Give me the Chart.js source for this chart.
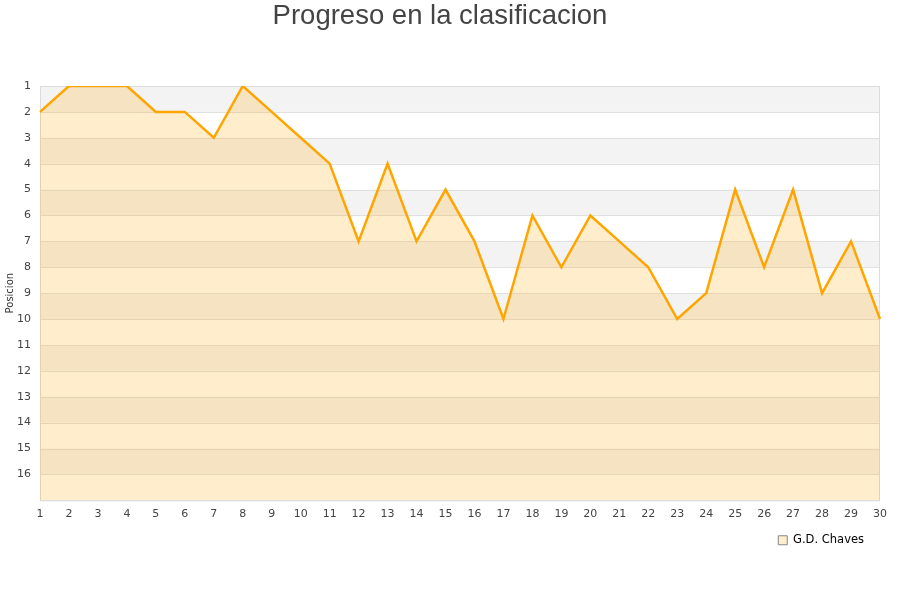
<!DOCTYPE html>
<html>
<head>
<meta charset="utf-8">
<script src="https://cdn.jsdelivr.net/npm/chart.js@4"></script>
<style>
  html, body { margin: 0; padding: 0; background: #fff; }
  #wrap { width: 900px; height: 600px; }
</style>
</head>
<body>
<div id="wrap"><canvas id="chart" width="900" height="600"></canvas></div>
<script>
'use strict';

/* ── Data ── */
const jornadas = ['1','2','3','4','5','6','7','8','9','10','11','12','13','14','15',
                  '16','17','18','19','20','21','22','23','24','25','26','27','28','29','30'];
const posiciones = [2, 1, 1, 1, 2, 2, 3, 1, 2, 3, 4, 7, 4, 7, 5,
                    7, 10, 6, 8, 6, 7, 8, 10, 9, 5, 8, 5, 9, 7, 10];
const equipo = 'G.D. Chaves';
const posMin = 1;
const posMax = 17;

/* ── Alternating background bands + frame ── */
const bandsPlugin = {
  id: 'bands',
  afterLayout(chart) {
    // nudge legend a little left of the canvas edge
    if (chart.legend) chart.legend.right -= 9;
  },
  beforeDatasetsDraw(chart) {
    const { ctx, chartArea: a, scales: { y } } = chart;
    ctx.save();
    for (let v = posMin; v < posMax; v++) {
      if ((v - posMin) % 2 !== 0) continue;
      const y1 = y.getPixelForValue(v);
      const y2 = y.getPixelForValue(v + 1);
      ctx.fillStyle = '#f3f3f3';
      ctx.fillRect(a.left, Math.min(y1, y2), a.right - a.left, Math.abs(y2 - y1));
    }
    // grid lines
    ctx.strokeStyle = '#e0e0e0';
    ctx.lineWidth = 1;
    for (let v = posMin; v <= posMax; v++) {
      const py = Math.round(y.getPixelForValue(v)) + 0.5;
      ctx.beginPath();
      ctx.moveTo(a.left, py);
      ctx.lineTo(a.right, py);
      ctx.stroke();
    }
    ctx.strokeStyle = '#dcdcdc';
    ctx.strokeRect(a.left + 0.5, a.top + 0.5, a.right - a.left - 1, a.bottom - a.top);
    ctx.restore();
  }
};

new Chart(document.getElementById('chart'), {
  type: 'line',
  data: {
    labels: jornadas,
    datasets: [{
      label: equipo,
      data: posiciones,
      borderColor: '#ffa500',
      backgroundColor: 'rgba(255,165,0,0.2)',
      borderWidth: 2.5,
      pointRadius: 0,
      tension: 0,
      fill: { value: posMax }
    }]
  },
  options: {
    responsive: false,
    animation: false,
    layout: { padding: { top: 0, right: 20, bottom: 44, left: 0 } },
    plugins: {
      title: {
        display: true,
        text: 'Progreso en la clasificacion',
        color: '#444',
        font: { family: 'Liberation Sans', size: 27.5, weight: 'normal' },
        padding: { top: 0, bottom: 53 }
      },
      legend: {
        position: 'bottom',
        align: 'end',
        labels: {
          color: '#222',
          font: { family: 'DejaVu Sans', size: 11.5 },
          boxWidth: 9,
          boxHeight: 9,
          padding: 7,
          generateLabels(chart) {
            return [{
              text: equipo,
              fillStyle: '#ffedcc',
              strokeStyle: '#888',
              lineWidth: 1,
              datasetIndex: 0
            }];
          }
        }
      },
      tooltip: { enabled: false }
    },
    scales: {
      x: {
        grid: { display: false, drawTicks: false },
        border: { display: false },
        ticks: {
          color: '#444',
          font: { family: 'DejaVu Sans', size: 11 },
          padding: 7,
          maxRotation: 0,
          autoSkip: false
        }
      },
      y: {
        reverse: true,
        min: posMin,
        max: posMax,
        afterFit(scale) { scale.width = 40; },
        grid: { display: false, drawTicks: false },
        border: { display: false },
        title: {
          display: true,
          text: 'Posicion',
          color: '#333',
          font: { family: 'DejaVu Sans', size: 10 },
          padding: { top: 4, bottom: 0 }
        },
        ticks: {
          stepSize: 1,
          color: '#444',
          font: { family: 'DejaVu Sans', size: 11 },
          padding: 9,
          callback: v => (v >= posMax ? '' : v)
        }
      }
    }
  },
  plugins: [bandsPlugin]
});
</script>
</body>
</html>
